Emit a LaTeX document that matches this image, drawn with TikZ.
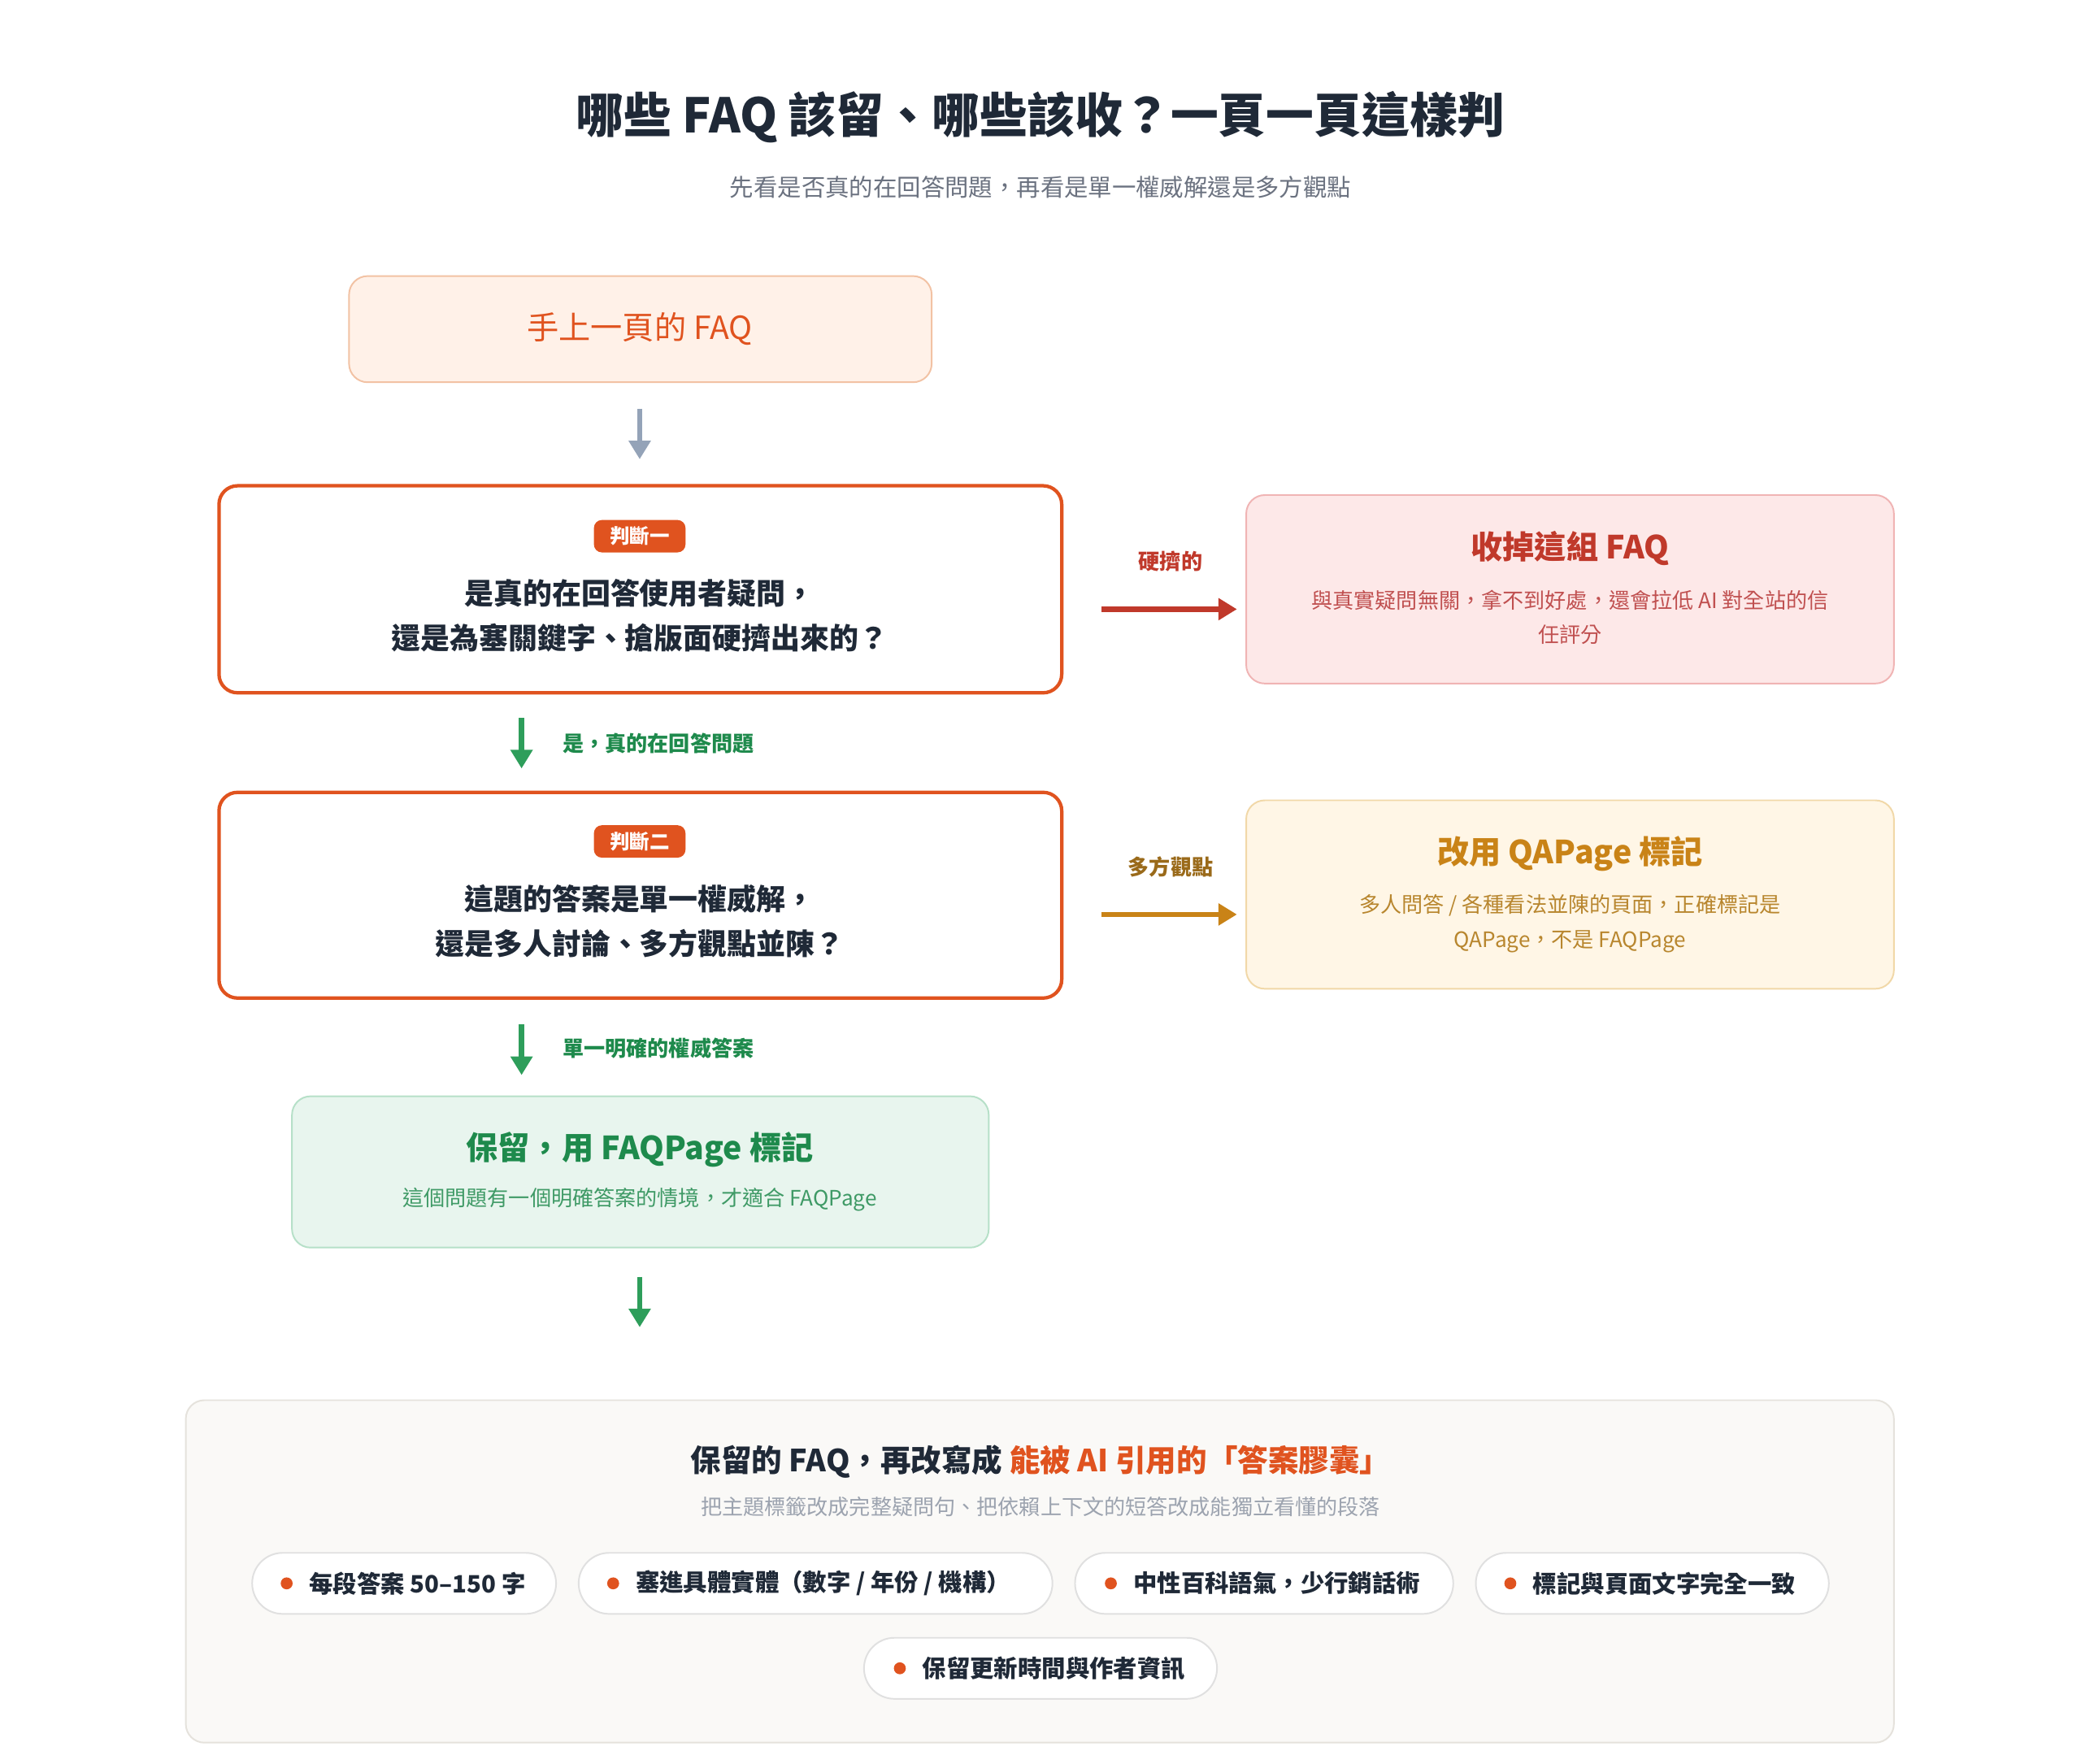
\documentclass[tikz,border=0pt]{standalone}
\usepackage{fontspec}
\setmainfont{Noto Sans CJK TC}
\usetikzlibrary{arrows.meta}
\definecolor{ink}{HTML}{1F2937}
\definecolor{gry}{HTML}{6B7280}
\definecolor{org}{HTML}{E0531F}
\definecolor{redc}{HTML}{C0392B}
\definecolor{amb}{HTML}{C98317}
\definecolor{grn}{HTML}{1E8A4C}
\definecolor{arrg}{HTML}{2E9E5B}
\definecolor{c1f}{HTML}{FFF1E8}\definecolor{c1d}{HTML}{F2C2A4}
\definecolor{c2f}{HTML}{FDE8E8}\definecolor{c2d}{HTML}{F0B4B4}
\definecolor{c3f}{HTML}{FFF6E6}\definecolor{c3d}{HTML}{F1D8A8}
\definecolor{c4f}{HTML}{E8F5EE}\definecolor{c4d}{HTML}{B6E0C8}
\definecolor{c5f}{HTML}{FAF9F7}\definecolor{c5d}{HTML}{E5E2DC}
\definecolor{slate}{HTML}{94A3B8}
\definecolor{rdesc}{HTML}{C05050}
\definecolor{adesc}{HTML}{B8862E}
\definecolor{alab}{HTML}{9A6A1A}
\definecolor{gdesc}{HTML}{3F9A66}
\definecolor{lgry}{HTML}{9CA3AF}
\begin{document}
\begin{tikzpicture}[x=0.5pt,y=-0.5pt,
  box/.style={rounded corners=7pt,line width=0.6pt},
  judge/.style={draw=org,fill=white,rounded corners=7pt,line width=1.3pt},
  badge/.style={fill=org,text=white,rounded corners=3pt,font=\fontsize{7.5}{9}\selectfont\bfseries,inner xsep=6pt,inner ysep=2.5pt},
  qtxt/.style={font=\fontsize{11}{17}\selectfont\bfseries,text=ink,align=center},
  btitle/.style={font=\fontsize{12}{14}\selectfont\bfseries},
  bdesc/.style={font=\fontsize{8}{13}\selectfont,align=center},
  arr/.style={line width=2pt,-{Triangle[length=7pt,width=8pt]}},
  lbl/.style={font=\fontsize{8}{10}\selectfont\bfseries},
  pill/.style={draw=black!12,fill=white,rounded corners=11.5pt,line width=0.6pt},
  ptxt/.style={font=\fontsize{9}{11}\selectfont\bfseries,text=ink},
  dot/.style={circle,fill=org,inner sep=0pt,minimum size=4.5pt}]
\useasboundingbox (0,0) rectangle (1568,1329);
\fill[white] (0,0) rectangle (1568,1329);
\node[font=\fontsize{18}{22}\selectfont\bfseries,text=ink] (title) at (784,88) {哪些 FAQ 該留、哪些該收？一頁一頁這樣判};
\node[font=\fontsize{9}{11}\selectfont,text=gry] (sub) at (784,141) {先看是否真的在回答問題，再看是單一權威解還是多方觀點};
\draw[box,fill=c1f,draw=c1d] (263,208) rectangle (702,288);
\node[btitle,text=org,font=\fontsize{12}{14}\selectfont] (start) at (482,248) {手上一頁的 FAQ};
\coordinate (a0) at (482,308); \coordinate (a1) at (482,346);
\draw[arr,draw=slate,fill=slate] (a0) -- (a1);
\draw[judge] (165,366) rectangle (800,522);
\node[badge] (b1) at (482,404) {判斷一};
\node[qtxt] (q1) at (482,464) {是真的在回答使用者疑問，\\還是為塞關鍵字、搶版面硬擠出來的？};
\draw[box,fill=c2f,draw=c2d] (939,373) rectangle (1427,515);
\node[btitle,text=redc] (r1t) at (1183,413) {收掉這組 FAQ};
\node[bdesc,text=rdesc] (r1d) at (1183,465) {與真實疑問無關，拿不到好處，還會拉低 AI 對全站的信\\任評分};
\coordinate (c0) at (830,459); \coordinate (c1) at (932,459);
\draw[arr,draw=redc,fill=redc] (c0) -- (c1);
\node[lbl,text=redc] (l1) at (882,423) {硬擠的};
\coordinate (g0) at (393,541); \coordinate (g1) at (393,579);
\draw[arr,draw=arrg,fill=arrg] (g0) -- (g1);
\node[lbl,text=grn,anchor=west] (gl1) at (417,560) {是，真的在回答問題};
\draw[judge] (165,597) rectangle (800,752);
\node[badge] (b2) at (482,634) {判斷二};
\node[qtxt] (q2) at (482,694) {這題的答案是單一權威解，\\還是多人討論、多方觀點並陳？};
\draw[box,fill=c3f,draw=c3d] (939,603) rectangle (1427,745);
\node[btitle,text=amb] (r2t) at (1183,643) {改用 QAPage 標記};
\node[bdesc,text=adesc] (r2d) at (1183,696) {多人問答 / 各種看法並陳的頁面，正確標記是\\QAPage，不是 FAQPage};
\coordinate (d0) at (830,689); \coordinate (d1) at (932,689);
\draw[arr,draw=amb,fill=amb] (d0) -- (d1);
\node[lbl,text=alab] (l2) at (882,653) {多方觀點};
\coordinate (h0) at (393,772); \coordinate (h1) at (393,810);
\draw[arr,draw=arrg,fill=arrg] (h0) -- (h1);
\node[lbl,text=grn,anchor=west] (gl2) at (417,790) {單一明確的權威答案};
\draw[box,fill=c4f,draw=c4d] (220,826) rectangle (745,940);
\node[btitle,text=grn] (kt) at (482,866) {保留，用 FAQPage 標記};
\node[bdesc,text=gdesc] (kd) at (482,904) {這個問題有一個明確答案的情境，才適合 FAQPage};
\coordinate (k0) at (482,962); \coordinate (k1) at (482,1000);
\draw[arr,draw=arrg,fill=arrg] (k0) -- (k1);
\draw[box,fill=c5f,draw=c5d] (140,1055) rectangle (1427,1313);
\node[font=\fontsize{11.5}{14}\selectfont\bfseries,text=ink] (pt) at (784,1101) {保留的 FAQ，再改寫成 \textcolor{org}{能被 AI 引用的「答案膠囊」}};
\node[font=\fontsize{8}{10}\selectfont,text=lgry] (ps) at (784,1135) {把主題標籤改成完整疑問句、把依賴上下文的短答改成能獨立看懂的段落};
\draw[pill] (190,1170) rectangle (419,1216);
\node[dot] (d1a) at (216,1193) {}; \node[ptxt,anchor=west] (p1) at (226,1193) {每段答案 50–150 字};
\draw[pill] (436,1170) rectangle (793,1216);
\node[dot] (d2a) at (462,1193) {}; \node[ptxt,anchor=west] (p2) at (472,1193) {塞進具體實體（數字 / 年份 / 機構）};
\draw[pill] (810,1170) rectangle (1095,1216);
\node[dot] (d3a) at (837,1193) {}; \node[ptxt,anchor=west] (p3) at (847,1193) {中性百科語氣，少行銷話術};
\draw[pill] (1112,1170) rectangle (1378,1216);
\node[dot] (d4a) at (1138,1193) {}; \node[ptxt,anchor=west] (p4) at (1148,1193) {標記與頁面文字完全一致};
\draw[pill] (651,1234) rectangle (917,1280);
\node[dot] (d5a) at (678,1257) {}; \node[ptxt,anchor=west] (p5) at (688,1257) {保留更新時間與作者資訊};
\end{tikzpicture}
\end{document}
